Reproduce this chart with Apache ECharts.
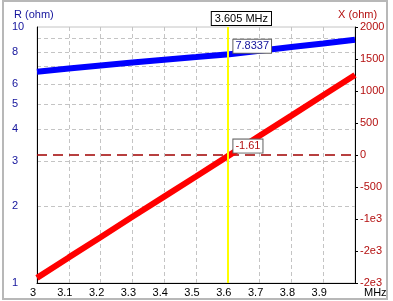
<!DOCTYPE html>
<html><head><meta charset="utf-8">
<script src="https://cdn.jsdelivr.net/npm/echarts@6/dist/echarts.min.js"></script>
<style>html,body{margin:0;padding:0;background:#fff}#c{width:393px;height:301px}</style>
</head><body><div id="c"></div>
<script>
const freqs = [3.0, 3.1, 3.2, 3.3, 3.4, 3.5, 3.605, 3.7, 3.8, 3.9, 4.0];
const resistance = [6.69, 6.88, 7.07, 7.26, 7.45, 7.63, 7.8337, 8.08, 8.35, 8.62, 8.92];
const reactance = [-1920, -1600, -1285, -965, -650, -335, -1.61, 300, 615, 935, 1250];
const cursorFreq = 3.605;
const cursorR = 7.8337;
const cursorX = -1.61;
const zeroRef = 0;
const leftTickValues = [1, 2, 3, 4, 5, 6, 8, 10];
const leftGridValues = [2, 3, 4, 5, 6, 7, 8, 9];
const rightTickValues = [-2000, -1500, -1000, -500, 0, 500, 1000, 1500, 2000];
const rightTickLabels = ['-2e3', '-2e3', '-1e3', '-500', '0', '500', '1000', '1500', '2000'];

const FONT = 'Liberation Sans, Arial, sans-serif';
const BLUE_TXT = '#14149c';
const RED_TXT = '#b41010';
const chart = echarts.init(document.getElementById('c'), null, {renderer: 'canvas'});
chart.setOption({
  animation: false,
  backgroundColor: '#fff',
  textStyle: {fontFamily: FONT},
  grid: {left: 37, right: 38, top: 27, bottom: 18, show: true, borderColor: '#c4c4c4', borderWidth: 1,
    containLabel: false, outerBoundsMode: 'none'},
  graphic: [
    {type: 'rect', shape: {x: 3, y: 1, width: 384, height: 298}, style: {fill: 'none', stroke: '#b8b8b8', lineWidth: 2}, silent: true},
    {type: 'text', left: 14, top: 9, style: {text: 'R (ohm)', fill: BLUE_TXT, font: '11px ' + FONT}},
    {type: 'text', left: 338, top: 9, style: {text: 'X (ohm)', fill: RED_TXT, font: '11px ' + FONT}},
    {type: 'text', left: 364, top: 287, style: {text: 'MHz', fill: '#000', font: '11px ' + FONT}}
  ],
  xAxis: {
    type: 'value', min: 3, max: 4, interval: 0.1,
    axisLine: {show: true, onZero: false, lineStyle: {color: '#000', width: 1}},
    axisTick: {show: false},
    axisLabel: {color: '#000', fontSize: 11, fontFamily: FONT, margin: 4, showMaxLabel: false, padding: [0, 8, 0, 0]},
    splitLine: {show: true, lineStyle: {color: '#c4c4c4', type: [4, 3], width: 1}}
  },
  yAxis: [
    {
      type: 'log', logBase: 10, min: 1, max: 10, position: 'left',
      axisLine: {show: true, onZero: false, lineStyle: {color: '#000', width: 1}},
      axisTick: {show: false, customValues: leftGridValues},
      axisLabel: {customValues: leftTickValues, color: BLUE_TXT, fontSize: 11, fontFamily: FONT, align: 'left', margin: 25,
        formatter: v => String(Math.round(v))},
      splitLine: {show: true, lineStyle: {color: '#c4c4c4', type: [4, 3], width: 1}},
      minorTick: {show: false}, minorSplitLine: {show: false}
    },
    {
      type: 'value', min: -2000, max: 2000, interval: 500, position: 'right',
      axisLine: {show: true, onZero: false, lineStyle: {color: '#000', width: 1}},
      axisTick: {show: true, inside: false, length: 3, lineStyle: {color: '#000'}},
      axisLabel: {color: RED_TXT, fontSize: 11, fontFamily: FONT, margin: 5,
        formatter: v => rightTickLabels[rightTickValues.indexOf(v)]},
      splitLine: {show: false}
    }
  ],
  series: [
    {
      type: 'line', yAxisIndex: 1, showSymbol: false, symbol: 'none', silent: true,
      data: [[freqs[0], zeroRef], [freqs[freqs.length - 1], zeroRef]],
      lineStyle: {color: '#a00000', width: 1.3, type: [10, 6]}, z: 1
    },
    {
      type: 'line', yAxisIndex: 0, showSymbol: false, symbol: 'none',
      data: freqs.map((f, i) => [f, resistance[i]]),
      lineStyle: {color: '#0000ff', width: 6}, z: 2,
      markPoint: {
        symbol: 'circle', symbolSize: 0, silent: true,
        data: [
          {coord: [cursorFreq, 10], label: {show: true, position: 'top', distance: 2, offset: [12, 0], formatter: cursorFreq + ' MHz',
            color: '#000', fontSize: 11, fontFamily: FONT, backgroundColor: '#fff', borderColor: '#000', borderWidth: 1, padding: [1, 3]}},
          {coord: [cursorFreq, cursorR], label: {show: true, position: 'right', distance: 4, offset: [0, -8], formatter: String(cursorR),
            color: BLUE_TXT, fontSize: 11, fontFamily: FONT, backgroundColor: '#fff', borderColor: '#606060', borderWidth: 1, padding: [1, 2]}}
        ]
      }
    },
    {
      type: 'line', yAxisIndex: 1, showSymbol: false, symbol: 'none',
      data: freqs.map((f, i) => [f, reactance[i]]),
      lineStyle: {color: '#ff0000', width: 6}, z: 3,
      markLine: {
        symbol: 'none', silent: true, label: {show: false},
        data: [
          {xAxis: cursorFreq, lineStyle: {color: '#ffff00', width: 2, type: 'solid'}}
        ]
      },
      markPoint: {
        symbol: 'circle', symbolSize: 0, silent: true,
        data: [
          {coord: [cursorFreq, cursorX], label: {show: true, position: 'right', distance: 4, offset: [0, -9], formatter: String(cursorX),
            color: RED_TXT, fontSize: 11, fontFamily: FONT, backgroundColor: '#fff', borderColor: '#606060', borderWidth: 1, padding: [1, 2]}}
        ]
      }
    }
  ]
});
</script></body></html>
